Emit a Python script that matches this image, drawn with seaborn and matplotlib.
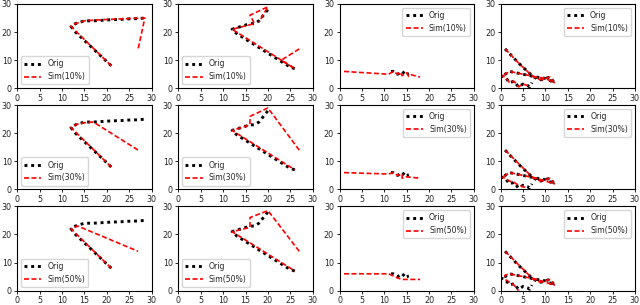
import numpy as np
import matplotlib
matplotlib.use('Agg')
import matplotlib.pyplot as plt
import seaborn as sns

levels = ['10%', '30%', '50%']

# column 1
orig1_x = [21, 20, 19, 18, 17, 16, 15, 14, 13, 12, 13, 14, 15, 17, 19, 21, 23, 25, 27, 28.5]
orig1_y = [8, 9.5, 11, 12.5, 14, 15.5, 17, 18.5, 20, 22, 23, 23.5, 24, 24, 24.2, 24.4, 24.5, 24.7, 24.8, 25]
sim1_x = {'10%': [21, 12, 13, 15, 20, 28.5, 27],
          '30%': [21, 12, 13, 14, 17, 27],
          '50%': [21, 12, 13.5, 27]}
sim1_y = {'10%': [8, 22, 23, 24, 24.5, 25, 14],
          '30%': [8, 22, 23, 23.6, 24, 14],
          '50%': [8, 22, 23, 14]}

# column 2
orig2_x = [26, 25, 24, 23, 22, 21, 20, 19, 18, 17, 16, 15, 14, 13, 12, 13, 15, 16, 17, 18, 19, 20]
orig2_y = [7, 7.5, 8.5, 9.5, 10.5, 11.5, 12.5, 13.5, 14.5, 15.5, 16.5, 17.5, 18.5, 19.5, 21, 21.5, 22.5, 23, 23, 24, 26, 28]
sim2_x = {'10%': [27, 23, 26, 12, 17, 16, 20, 18],
          '30%': [27, 20, 16, 16, 12, 26],
          '50%': [27, 20, 16, 16, 12, 26]}
sim2_y = {'10%': [14, 10, 7, 21, 23, 26, 29, 23.5],
          '30%': [14, 29, 26, 23, 21, 7],
          '50%': [14, 28.5, 26, 22.5, 21, 7]}

# column 3
orig3_x = [11.5, 12, 12.5, 13, 13.5, 14, 14.5, 15, 15.5]
orig3_y = [6, 6, 5.5, 5, 5.5, 5, 6, 5, 5.2]
sim3_x = {'10%': [1, 11, 12, 13, 13.5, 14, 15, 15.5, 16, 18],
          '30%': [1, 11, 12, 13, 14, 14, 15, 18],
          '50%': [1, 11, 13, 14, 18]}
sim3_y = {'10%': [6, 5, 6, 5, 5.8, 4.5, 5.5, 4.2, 4.8, 4],
          '30%': [6, 5.5, 6, 5, 5.5, 4, 4.5, 4],
          '50%': [6, 6, 4.5, 4, 4]}

# column 4
orig4_x = [1, 4, 7, 8, 9, 10, 11, 12, 10, 8, 5, 2, 1, 0, 1, 1.5, 2, 3, 3.5, 4, 5, 6, 6.5, 7]
orig4_y = [14, 9, 4.5, 3.5, 3, 3.5, 4, 2, 3.5, 4, 5, 6, 5, 4.5, 4, 3, 2, 2.5, 1.5, 0.5, 1.5, 1, 0.5, 2]
sim4_x = {'10%': [1, 4, 7, 8, 9, 10, 11, 12, 10, 8, 5, 2, 1, 0, 1, 2, 3, 3.5, 4, 5, 6, 6.5],
          '30%': [1, 7, 8, 9, 10, 11, 12, 8, 5, 2, 1, 0, 1, 2, 3, 4, 5, 6],
          '50%': [1, 7, 8, 9, 10, 11, 12, 8, 2, 1, 1, 3, 4]}
sim4_y = {'10%': [14, 9, 4.5, 3.5, 3, 3.5, 4, 2, 3.5, 4, 5, 6, 5, 4.5, 4, 2, 2.5, 1.5, 0.5, 1.5, 1, 0],
          '30%': [14, 4.5, 3.5, 3, 3.5, 4, 2, 4, 5, 6, 5, 4.5, 4, 3, 2.5, 1.5, 1, 0.5],
          '50%': [14, 4.5, 3.5, 3, 3.5, 4, 2, 4, 6, 5.5, 4, 2, 0]}

origs = [(orig1_x, orig1_y), (orig2_x, orig2_y), (orig3_x, orig3_y), (orig4_x, orig4_y)]
sims = [(sim1_x, sim1_y), (sim2_x, sim2_y), (sim3_x, sim3_y), (sim4_x, sim4_y)]
legend_loc = ['lower left', 'lower left', 'upper right', 'upper right']

sns.set_theme(style='ticks', rc={'axes.edgecolor': 'black', 'axes.linewidth': 0.8,
                                 'xtick.major.size': 2.5, 'ytick.major.size': 2.5,
                                 'xtick.major.width': 0.7, 'ytick.major.width': 0.7,
                                 'xtick.major.pad': 1.5, 'ytick.major.pad': 1.5,
                                 'xtick.labelsize': 5.8, 'ytick.labelsize': 5.8,
                                 'legend.fontsize': 5.6})
plt.rcParams['font.family'] = ['DejaVu Sans']

fig, axes = plt.subplots(3, 4, figsize=(6.4, 3.05), dpi=100)
fig.subplots_adjust(left=0.027, right=0.992, top=0.987, bottom=0.047, wspace=0.2, hspace=0.2)

for r, lev in enumerate(levels):
    for c in range(4):
        ax = axes[r, c]
        ox, oy = origs[c]
        sx, sy = sims[c]
        sns.lineplot(x=ox, y=oy, sort=False, estimator=None, ax=ax, color='black',
                     linestyle=(0, (1, 1.3)), linewidth=2.1, label='Orig')
        sns.lineplot(x=sx[lev], y=sy[lev], sort=False, estimator=None, ax=ax, color='red',
                     linestyle=(0, (3, 1.5)), linewidth=1.2, label='Sim(' + lev + ')')
        ax.set_xlim(0, 30)
        ax.set_ylim(0, 30)
        ax.set_xticks(range(0, 31, 5))
        ax.set_yticks([0, 10, 20, 30])
        ax.legend(loc=legend_loc[c], handlelength=2.2, borderpad=0.4, labelspacing=0.5)

plt.savefig('out.png', dpi=100)
